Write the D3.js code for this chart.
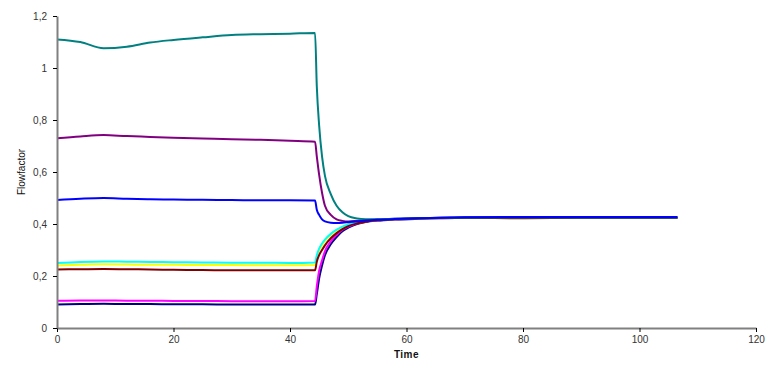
<!DOCTYPE html>
<html>
<head>
<meta charset="utf-8">
<script src="https://cdn.jsdelivr.net/npm/d3@7"></script>
<style>
  body { margin: 0; background: #fff; }
  text { font-family: "Liberation Sans", Arial, sans-serif; }
</style>
</head>
<body>
<div id="chart"></div>
<script>
// chart size and plot area
let svgwidth = 781;
let svgheight = 374;
let margin = { top: 16, right: 25, bottom: 46, left: 57 };
let width = svgwidth - margin.left - margin.right;
let height = svgheight - margin.top - margin.bottom;

// sample times shared by every series
let times = [0, 4, 8, 12, 16, 20, 25, 30, 35, 40, 44.3, 44.6, 45, 45.5, 46, 47, 48, 49, 50, 51.5,
             53, 55, 58, 62, 66, 70, 80, 90, 100, 106.5];

// flowfactor per series
let navy = [0.09, 0.092, 0.093, 0.092, 0.092, 0.091, 0.091, 0.09, 0.09, 0.09, 0.09, 0.13, 0.19, 0.24, 0.28, 0.322, 0.35, 0.372, 0.386, 0.4,
            0.408, 0.413, 0.417, 0.42, 0.422, 0.423, 0.424, 0.424, 0.424, 0.424];
let magenta = [0.105, 0.106, 0.106, 0.105, 0.105, 0.104, 0.104, 0.103, 0.103, 0.103, 0.104, 0.16, 0.22, 0.26, 0.295, 0.333, 0.358, 0.378, 0.39, 0.402,
               0.41, 0.414, 0.418, 0.421, 0.422, 0.423, 0.424, 0.424, 0.424, 0.424];
let yellow = [0.24, 0.243, 0.245, 0.244, 0.243, 0.243, 0.242, 0.242, 0.241, 0.241, 0.242, 0.272, 0.298, 0.318, 0.335, 0.358, 0.375, 0.387, 0.396, 0.405,
              0.411, 0.415, 0.418, 0.421, 0.422, 0.423, 0.424, 0.424, 0.424, 0.424];
let cyan = [0.25, 0.254, 0.256, 0.255, 0.254, 0.253, 0.252, 0.251, 0.251, 0.25, 0.252, 0.28, 0.305, 0.325, 0.34, 0.362, 0.378, 0.39, 0.398, 0.407,
            0.412, 0.416, 0.419, 0.421, 0.423, 0.424, 0.424, 0.423, 0.423, 0.423];
let purple = [0.73, 0.737, 0.742, 0.738, 0.735, 0.732, 0.729, 0.726, 0.724, 0.72, 0.716, 0.66, 0.59, 0.52, 0.47, 0.435, 0.418, 0.412, 0.41, 0.412,
              0.415, 0.417, 0.42, 0.422, 0.424, 0.425, 0.425, 0.425, 0.425, 0.425];
let darkred = [0.225, 0.226, 0.227, 0.226, 0.225, 0.224, 0.223, 0.222, 0.222, 0.222, 0.222, 0.255, 0.28, 0.3, 0.318, 0.345, 0.365, 0.38, 0.392, 0.402,
               0.409, 0.414, 0.418, 0.421, 0.423, 0.424, 0.422, 0.424, 0.424, 0.424];
let teal = [1.11, 1.1, 1.076, 1.082, 1.098, 1.108, 1.118, 1.127, 1.13, 1.132, 1.135, 0.93, 0.78, 0.66, 0.585, 0.515, 0.47, 0.445, 0.43, 0.421,
            0.418, 0.418, 0.42, 0.422, 0.424, 0.425, 0.425, 0.425, 0.425, 0.425];
let blue = [0.492, 0.497, 0.5, 0.497, 0.495, 0.494, 0.493, 0.492, 0.491, 0.491, 0.49, 0.455, 0.435, 0.418, 0.41, 0.405, 0.404, 0.405, 0.407, 0.41,
            0.413, 0.416, 0.419, 0.422, 0.424, 0.426, 0.427, 0.427, 0.427, 0.427];

let seriesValues = [navy, magenta, yellow, cyan, purple, darkred, teal, blue];
let seriesColors = ['#000080', '#ff00ff', '#ffff00', '#00ffff', '#800080', '#800000', '#008080', '#0000ff'];

let xTicks = [0, 20, 40, 60, 80, 100, 120];
let yTicks = [0, 0.2, 0.4, 0.6, 0.8, 1, 1.2];

let svg = d3.select('#chart').append('svg')
    .attr('width', svgwidth)
    .attr('height', svgheight);

let chartgroup = svg.append('g')
    .attr('transform', `translate(${margin.left}, ${margin.top})`);

let xscale = d3.scaleLinear().domain([0, 120]).range([0, width]);
let yscale = d3.scaleLinear().domain([0, 1.2]).range([height, 0]);

// lines
let line = d3.line()
    .x((d, i) => xscale(times[i]))
    .y(d => yscale(d))
    .curve(d3.curveMonotoneX);

chartgroup.selectAll('.series')
    .data(seriesValues)
    .enter()
    .append('path')
    .attr('class', 'series')
    .attr('fill', 'none')
    .attr('stroke', (d, i) => seriesColors[i])
    .attr('stroke-width', 2)
    .attr('stroke-linejoin', 'round')
    .attr('d', line);

// axes
let fmt = v => String(+v.toFixed(1)).replace('.', ',');

let xaxis = chartgroup.append('g')
    .attr('transform', `translate(0, ${height})`)
    .call(d3.axisBottom(xscale).tickValues(xTicks).tickSize(4).tickSizeOuter(0).tickPadding(4));

let yaxis = chartgroup.append('g')
    .call(d3.axisLeft(yscale).tickValues(yTicks).tickSize(4).tickSizeOuter(0).tickPadding(6).tickFormat(fmt));

[xaxis, yaxis].forEach(function(ax) {
    ax.select('.domain').attr('stroke', '#808080').attr('stroke-width', 2);
    ax.selectAll('.tick line').attr('stroke', '#000');
    ax.selectAll('.tick text')
        .attr('fill', '#333')
        .style('font-size', '10px')
        .style('font-family', '"Liberation Sans", Arial, sans-serif');
});

// axis titles
chartgroup.append('text')
    .attr('x', width / 2)
    .attr('y', height + 30)
    .attr('text-anchor', 'middle')
    .attr('font-size', '10px')
    .attr('font-weight', 'bold')
    .attr('letter-spacing', '0.5px')
    .attr('fill', '#111')
    .text('Time');

chartgroup.append('text')
    .attr('transform', `translate(${-32}, ${height / 2}) rotate(-90)`)
    .attr('text-anchor', 'middle')
    .attr('font-size', '10px')
    .attr('fill', '#111')
    .text('Flowfactor');
</script>
</body>
</html>
